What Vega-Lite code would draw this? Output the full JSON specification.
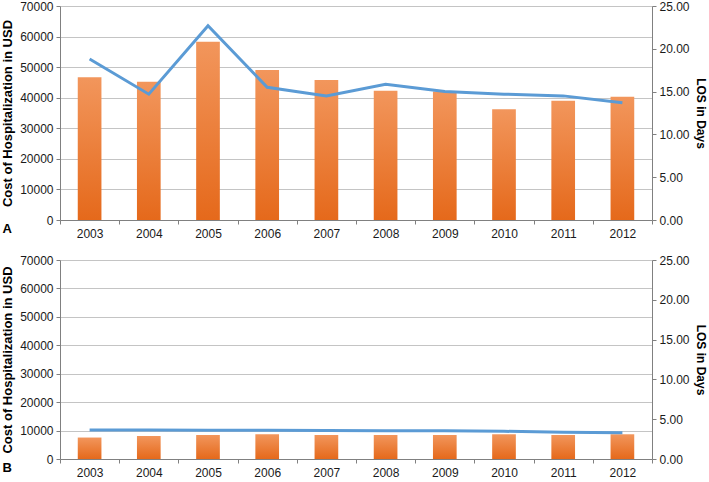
{
  "$schema": "https://vega.github.io/schema/vega-lite/v6.json",
  "background": "white",
  "padding": {"left": 1, "right": 2, "top": 0, "bottom": 2},
  "datasets": {
    "a": [
      {"year": "2003", "cost": 46700, "los": 18.8},
      {"year": "2004", "cost": 45250, "los": 14.7},
      {"year": "2005", "cost": 58300, "los": 22.7},
      {"year": "2006", "cost": 49100, "los": 15.5},
      {"year": "2007", "cost": 45800, "los": 14.5},
      {"year": "2008", "cost": 42300, "los": 15.85},
      {"year": "2009", "cost": 42000, "los": 15.0},
      {"year": "2010", "cost": 36200, "los": 14.7},
      {"year": "2011", "cost": 39000, "los": 14.5},
      {"year": "2012", "cost": 40300, "los": 13.7}
    ],
    "b": [
      {"year": "2003", "cost": 7550, "los": 3.64},
      {"year": "2004", "cost": 8100, "los": 3.64},
      {"year": "2005", "cost": 8450, "los": 3.62},
      {"year": "2006", "cost": 8700, "los": 3.6},
      {"year": "2007", "cost": 8450, "los": 3.57},
      {"year": "2008", "cost": 8450, "los": 3.55},
      {"year": "2009", "cost": 8450, "los": 3.55},
      {"year": "2010", "cost": 8700, "los": 3.48},
      {"year": "2011", "cost": 8450, "los": 3.35},
      {"year": "2012", "cost": 8700, "los": 3.3}
    ]
  },
  "config": {
    "font": "Liberation Sans",
    "view": {"stroke": null},
    "concat": {"spacing": 15},
    "axis": {
      "labelFont": "Liberation Sans",
      "labelFontSize": 12,
      "labelColor": "#1a1a1a",
      "titleFont": "Liberation Sans",
      "titleFontSize": 13,
      "titleFontWeight": "bold",
      "titleColor": "#000000",
      "domainColor": "#808080",
      "tickColor": "#808080",
      "gridColor": "#c4c4c4",
      "gridWidth": 1.2
    }
  },
  "vconcat": [
    {
      "width": 592,
      "height": 214,
      "data": {"name": "a"},
      "encoding": {
        "x": {
          "field": "year", "type": "ordinal",
          "scale": {"paddingInner": 0, "paddingOuter": 0},
          "axis": {
            "title": "A", "titleAnchor": "start", "titleAlign": "left", "titleX": -58, "titleY": 2, "titleBaseline": "top", "titleFontSize": 13,
            "labelAngle": 0, "tickBand": "extent", "tickSize": 4, "labelPadding": 4, "grid": false
          }
        }
      },
      "layer": [
        {
          "mark": {"type": "bar", "width": {"band": 0.4},
            "color": {"gradient": "linear", "x1": 0, "y1": 0, "x2": 0, "y2": 1,
              "stops": [{"offset": 0, "color": "#F2965C"}, {"offset": 1, "color": "#E5691B"}]}},
          "encoding": {
            "y": {"field": "cost", "type": "quantitative",
              "scale": {"domain": [0, 70000]},
              "axis": {"title": "Cost of Hospitalization in USD", "values": [0,10000,20000,30000,40000,50000,60000,70000], "format": "d", "tickSize": 4, "labelPadding": 3, "titlePadding": 5, "grid": true}}
          }
        },
        {
          "mark": {"type": "line", "color": "#5B9BD5", "strokeWidth": 3},
          "encoding": {
            "y": {"field": "los", "type": "quantitative",
              "scale": {"domain": [0, 25]},
              "axis": {"orient": "right", "title": "LOS in Days", "values": [0,5,10,15,20,25], "format": ".2f", "tickSize": 4, "labelPadding": 3, "titlePadding": 4, "titleFontSize": 12, "grid": false}}
          }
        }
      ],
      "resolve": {"scale": {"y": "independent"}}
    },
    {
      "width": 592,
      "height": 199,
      "data": {"name": "b"},
      "encoding": {
        "x": {
          "field": "year", "type": "ordinal",
          "scale": {"paddingInner": 0, "paddingOuter": 0},
          "axis": {
            "title": "B", "titleAnchor": "start", "titleAlign": "left", "titleX": -58, "titleY": 2, "titleBaseline": "top", "titleFontSize": 13,
            "labelAngle": 0, "tickBand": "extent", "tickSize": 4, "labelPadding": 4, "grid": false
          }
        }
      },
      "layer": [
        {
          "mark": {"type": "bar", "width": {"band": 0.4},
            "color": {"gradient": "linear", "x1": 0, "y1": 0, "x2": 0, "y2": 1,
              "stops": [{"offset": 0, "color": "#F2965C"}, {"offset": 1, "color": "#E5691B"}]}},
          "encoding": {
            "y": {"field": "cost", "type": "quantitative",
              "scale": {"domain": [0, 70000]},
              "axis": {"title": "Cost of Hospitalization in USD", "values": [0,10000,20000,30000,40000,50000,60000,70000], "format": "d", "tickSize": 4, "labelPadding": 3, "titlePadding": 5, "grid": true}}
          }
        },
        {
          "mark": {"type": "line", "color": "#5B9BD5", "strokeWidth": 3},
          "encoding": {
            "y": {"field": "los", "type": "quantitative",
              "scale": {"domain": [0, 25]},
              "axis": {"orient": "right", "title": "LOS in Days", "values": [0,5,10,15,20,25], "format": ".2f", "tickSize": 4, "labelPadding": 3, "titlePadding": 4, "titleFontSize": 12, "grid": false}}
          }
        }
      ],
      "resolve": {"scale": {"y": "independent"}}
    }
  ]
}
